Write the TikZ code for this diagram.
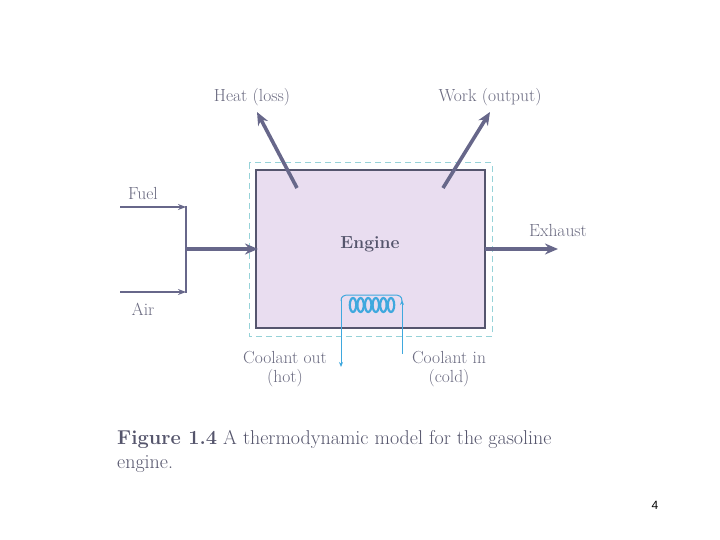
\documentclass[tikz,border=0pt]{standalone}
\usepackage{fontspec}
\newfontfamily\pagenumfont{Liberation Sans}
\usetikzlibrary{arrows.meta}
\definecolor{arrowc}{HTML}{67678A}
\definecolor{framec}{HTML}{55556E}
\definecolor{enginefill}{HTML}{E9DDF0}
\definecolor{dashc}{HTML}{96D2D8}
\definecolor{coolc}{HTML}{3FA8DE}
\definecolor{textc}{HTML}{6A6A80}
\definecolor{capc}{HTML}{55556C}
\tikzset{
  thickarrow/.style={draw=arrowc, line width=3.6pt, -{Stealth[length=13pt,width=11pt]}},
  thinarrow/.style={draw=arrowc, line width=1.6pt, -{Stealth[length=8pt,width=6pt]}},
  lbl/.style={text=textc, font=\fontsize{17.5}{19}\selectfont, inner sep=0pt},
  coolline/.style={draw=coolc, line width=1pt},
}
\begin{document}
\begin{tikzpicture}[x=1pt,y=-1pt]
\useasboundingbox (0,0) rectangle (720,540);
% boxes
\draw[dashc, line width=1pt, dash pattern=on 6pt off 4pt] (249,163) rectangle (492,336);
\draw[framec, fill=enginefill, line width=2pt] (256,170) rectangle (485,328);
\node[font=\bfseries\fontsize{17.5}{19}\selectfont, text=capc] (engine) at (370,244) {Engine};
% heat / work
\coordinate (hs) at (297,188); \coordinate (he) at (257,112);
\coordinate (ws) at (443,188); \coordinate (we) at (490,112);
\draw[thickarrow] (hs) -- (he);
\draw[thickarrow] (ws) -- (we);
\node[lbl] (heat) at (252,97) {Heat (loss)};
\node[lbl] (work) at (490,97) {Work (output)};
% fuel / air
\coordinate (f0) at (120,207); \coordinate (f1) at (186,207);
\coordinate (a0) at (120,292); \coordinate (a1) at (186,292);
\coordinate (m0) at (186,249); \coordinate (m1) at (258,249);
\draw[thinarrow] (f0) -- (f1);
\draw[thinarrow] (a0) -- (a1);
\draw[arrowc, line width=2pt] (186,206) -- (186,293);
\draw[thickarrow] (m0) -- (m1);
\node[lbl] (fuel) at (143,193) {Fuel};
\node[lbl] (air) at (143,309) {Air};
% exhaust
\coordinate (x0) at (485,249); \coordinate (x1) at (558,249);
\draw[thickarrow] (x0) -- (x1);
\node[lbl] (exh) at (558,230) {Exhaust};
% coolant coil
\coordinate (cl) at (341,367); \coordinate (cr) at (402,352);
\draw[coolline, -{Stealth[length=5pt,width=4pt]}] (341,300) -- (cl);
\draw[coolline, -{Stealth[length=5pt,width=4pt]}] (402,354) -- (402,300);
\draw[coolline] (341,301) .. controls (341,296) and (344,295) .. (349,295) -- (394,295) .. controls (399,295) and (402,296) .. (402,301);
\foreach \i in {0,...,5} {
  \draw[coolc, line width=2.2pt] (353+7.6*\i,305) ellipse (3.2 and 7);
}
\node[lbl, align=center] (cout) at (285,369) {Coolant out\\(hot)};
\node[lbl, align=center] (cin) at (449,369) {Coolant in\\(cold)};
% caption
\node[anchor=west, text=capc, inner sep=0pt, align=left, font=\fontsize{20}{24}\selectfont] (cap) at (117,451)
  {\textbf{Figure 1.4} A thermodynamic model for the gasoline\\engine.};
\node[font=\pagenumfont\fontsize{12}{14}\selectfont] (pg) at (655,505) {4};
\end{tikzpicture}
\end{document}
